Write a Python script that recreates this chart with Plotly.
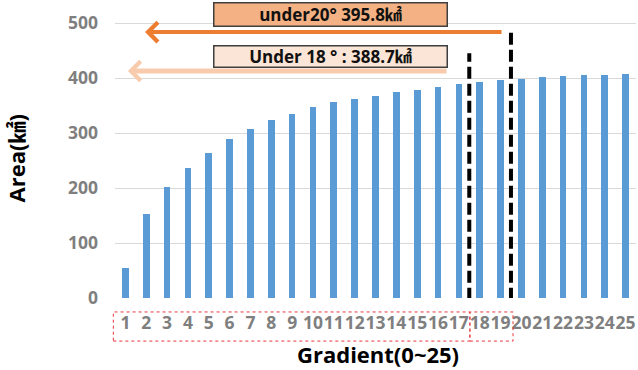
import plotly.graph_objects as go

gradient = list(range(1, 26))
tick_labels = [str(g) for g in gradient]
area = [55, 153, 201, 236, 264, 289, 308, 324, 335, 347, 356, 362, 367, 375, 378,
        383, 388.7, 393, 395.8, 399, 402, 404, 406, 406, 408]
y_ticks = [0, 100, 200, 300, 400, 500]

label20 = "under20° 395.8㎢"
label18 = "Under 18 ° : 388.7㎢"

FONT = "Open Sans, Noto Sans CJK KR"
X0, X1 = 0.5, 25.5
Y0, Y1 = 0, 540

def xp(v):
    return (v - X0) / (X1 - X0)

fig = go.Figure()
fig.add_trace(go.Bar(x=gradient, y=area, width=0.32, marker_color="#5B9BD5",
                     marker_line_width=0))

shapes = [
    # dashed vertical separators
    dict(type="line", xref="x", yref="y", x0=17.5, x1=17.5, y0=-3, y1=445,
         line=dict(color="black", width=4, dash="12px,5px")),
    dict(type="line", xref="x", yref="y", x0=19.5, x1=19.5, y0=-3, y1=484,
         line=dict(color="black", width=4, dash="12px,5px")),
    # red dashed boxes around tick labels
    dict(type="rect", xref="paper", yref="paper", x0=xp(0.42), x1=xp(17.53),
         y0=-0.145, y1=-0.047, line=dict(color="#E8383D", width=1, dash="dot")),
    dict(type="rect", xref="paper", yref="paper", x0=xp(17.53), x1=xp(19.6),
         y0=-0.145, y1=-0.047, line=dict(color="#E8383D", width=1, dash="dot")),
]

annotations = [
    # arrows
    dict(x=1.94, y=483.5, ax=19.12, ay=483.5, xref="x", yref="y", axref="x", ayref="y",
         text="", showarrow=True, arrowhead=4, arrowsize=0.95, arrowwidth=4,
         arrowcolor="#ED7D31"),
    dict(x=1.12, y=412.7, ax=16.48, ay=412.7, xref="x", yref="y", axref="x", ayref="y",
         text="", showarrow=True, arrowhead=4, arrowsize=0.75, arrowwidth=5,
         arrowcolor="#F8CBAD"),
    # label boxes
    dict(x=10.84, y=516, xref="x", yref="y", text="<b>" + label20 + "</b>", showarrow=False,
         font=dict(family=FONT, size=17, color="#111111"), bgcolor="#F4B183",
         bordercolor="#3F3F3F", borderwidth=1.5, borderpad=1, width=230, height=20),
    dict(x=10.84, y=440, xref="x", yref="y", text="<b>" + label18 + "</b>", showarrow=False,
         font=dict(family=FONT, size=17, color="#111111"), bgcolor="#FBE5D6",
         bordercolor="#3F3F3F", borderwidth=1.5, borderpad=1, width=230, height=18),
    # axis titles
    dict(x=0, y=0.47, xref="paper", yref="paper", xshift=-99, text="<b>Area(㎢)</b>",
         textangle=-90, showarrow=False, font=dict(family=FONT, size=22, color="black"),
         xanchor="center", yanchor="middle", borderpad=0),
    dict(x=0.505, y=0, xref="paper", yref="paper", yshift=-56, text="<b>Gradient(0~25)</b>",
         showarrow=False, font=dict(family=FONT, size=22, color="black"),
         xanchor="center", yanchor="middle", borderpad=0),
]

fig.update_layout(
    width=638, height=370,
    margin=dict(l=115, r=2, t=1, b=72),
    paper_bgcolor="white", plot_bgcolor="white",
    showlegend=False,
    shapes=shapes, annotations=annotations,
    xaxis=dict(range=[X0, X1], tickmode="array", tickvals=gradient, ticktext=tick_labels,
               tickangle=0,
               showgrid=False, zeroline=False, showline=False, ticks="",
               tickfont=dict(family=FONT, size=17.5, color="#7F7F7F", weight="bold"),
               ticklabelstandoff=12),
    yaxis=dict(range=[Y0, Y1], tickmode="array", tickvals=y_ticks,
               showgrid=True, gridcolor="#D9D9D9", gridwidth=1, zeroline=False,
               showline=False, ticks="",
               tickfont=dict(family=FONT, size=17.5, color="#7F7F7F", weight="bold"),
               ticklabelstandoff=16),
    bargap=0,
)

fig.write_html("out.html")
